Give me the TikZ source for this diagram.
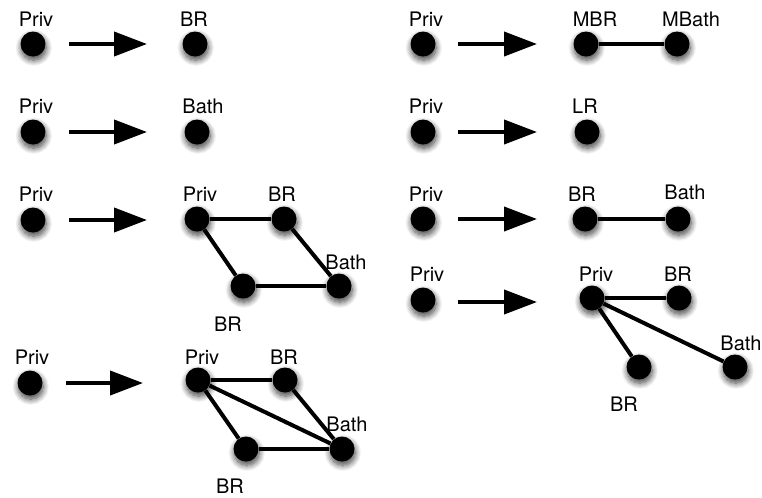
\documentclass[tikz,border=0pt]{standalone}
\usepackage{fontspec}
\setmainfont{TeX Gyre Heros}
\usetikzlibrary{arrows.meta,shadows.blur}
\tikzset{
    dot/.style={shape=circle,fill=black,minimum size=18.75pt,inner sep=0pt,
        blur shadow={shadow xshift=0.6pt,shadow yshift=-2.8pt,shadow blur radius=4.5pt,shadow blur steps=10,shadow opacity=75}},
    lbl/.style={font=\fontsize{15}{18}\selectfont,inner sep=0pt},
    link/.style={line width=3pt},
    goes/.style={line width=3pt,-{Triangle[length=24.75pt,width=18pt]}},
}
\begin{document}
\begin{tikzpicture}[x=0.75pt,y=-0.75pt]
                \useasboundingbox (0,0) rectangle (762,497);

                % left column
                \node[dot] (a1) at (33,44) {};
                \node[dot] (b1) at (195,44) {};
                \node[dot] (a2) at (33,132) {};
                \node[dot] (b2) at (197,132) {};
                \node[dot] (a3) at (33,220) {};
                \node[dot] (c3) at (197,219) {};
                \node[dot] (d3) at (284,219) {};
                \node[dot] (e3) at (243,286) {};
                \node[dot] (f3) at (339,286) {};
                \node[dot] (a4) at (30,383) {};
                \node[dot] (c4) at (198,380) {};
                \node[dot] (d4) at (285,380) {};
                \node[dot] (e4) at (246,449) {};
                \node[dot] (f4) at (342,449) {};

                \node[lbl] (la1) at (36,19) {Priv};
                \node[lbl] (lb1) at (194,19) {BR};
                \node[lbl] (la2) at (36,106) {Priv};
                \node[lbl] (lb2) at (203,106) {Bath};
                \node[lbl] (la3) at (36,194) {Priv};
                \node[lbl] (lc3) at (200,194) {Priv};
                \node[lbl] (ld3) at (282,194) {BR};
                \node[lbl] (le3) at (228,324) {BR};
                \node[lbl] (lf3) at (346,262) {Bath};
                \node[lbl] (la4) at (32,357) {Priv};
                \node[lbl] (lc4) at (202,357) {Priv};
                \node[lbl] (ld4) at (284,357) {BR};
                \node[lbl] (le4) at (230,486) {BR};
                \node[lbl] (lf4) at (347,424) {Bath};

                \coordinate (s1) at (69,44);   \coordinate (t1) at (147,44);
                \coordinate (s2) at (69,132);  \coordinate (t2) at (147,132);
                \coordinate (s3) at (69,220);  \coordinate (t3) at (147,220);
                \coordinate (s4) at (66,383);  \coordinate (t4) at (143,383);

                \draw[goes] (s1) -- (t1);
                \draw[goes] (s2) -- (t2);
                \draw[goes] (s3) -- (t3);
                \draw[goes] (s4) -- (t4);

                \draw[link] (c3) edge (d3);
                \draw[link] (c3) edge (e3);
                \draw[link] (d3) edge (f3);
                \draw[link] (e3) edge (f3);

                \draw[link] (c4) edge (d4);
                \draw[link] (c4) edge (e4);
                \draw[link] (c4) edge (f4);
                \draw[link] (d4) edge (f4);
                \draw[link] (e4) edge (f4);

                % right column
                \node[dot] (g1) at (423,44) {};
                \node[dot] (h1) at (586,44) {};
                \node[dot] (i1) at (677,44) {};
                \node[dot] (g2) at (423,132) {};
                \node[dot] (h2) at (587,132) {};
                \node[dot] (g3) at (423,219) {};
                \node[dot] (h3) at (585,219) {};
                \node[dot] (i3) at (678,219) {};
                \node[dot] (g4) at (423,300) {};
                \node[dot] (h4) at (592,298) {};
                \node[dot] (i4) at (679,298) {};
                \node[dot] (j4) at (639,367) {};
                \node[dot] (k4) at (735,367) {};

                \node[lbl] (lg1) at (426,19) {Priv};
                \node[lbl] (lh1) at (595,19) {MBR};
                \node[lbl] (li1) at (691,19) {MBath};
                \node[lbl] (lg2) at (426,106) {Priv};
                \node[lbl] (lh2) at (585,106) {LR};
                \node[lbl] (lg3) at (426,194) {Priv};
                \node[lbl] (lh3) at (582,194) {BR};
                \node[lbl] (li3) at (685,192) {Bath};
                \node[lbl] (lg4) at (427,274) {Priv};
                \node[lbl] (lh4) at (596,274) {Priv};
                \node[lbl] (li4) at (678,274) {BR};
                \node[lbl] (lj4) at (624,404) {BR};
                \node[lbl] (lk4) at (741,343) {Bath};

                \coordinate (u1) at (458,44);   \coordinate (v1) at (537,44);
                \coordinate (u2) at (458,132);  \coordinate (v2) at (537,132);
                \coordinate (u3) at (458,219);  \coordinate (v3) at (537,219);
                \coordinate (u4) at (458,302);  \coordinate (v4) at (537,302);

                \draw[goes] (u1) -- (v1);
                \draw[goes] (u2) -- (v2);
                \draw[goes] (u3) -- (v3);
                \draw[goes] (u4) -- (v4);

                \draw[link] (h1) edge (i1);
                \draw[link] (h3) edge (i3);
                \draw[link] (h4) edge (i4);
                \draw[link] (h4) edge (j4);
                \draw[link] (h4) edge (k4);

            \end{tikzpicture}
\end{document}
